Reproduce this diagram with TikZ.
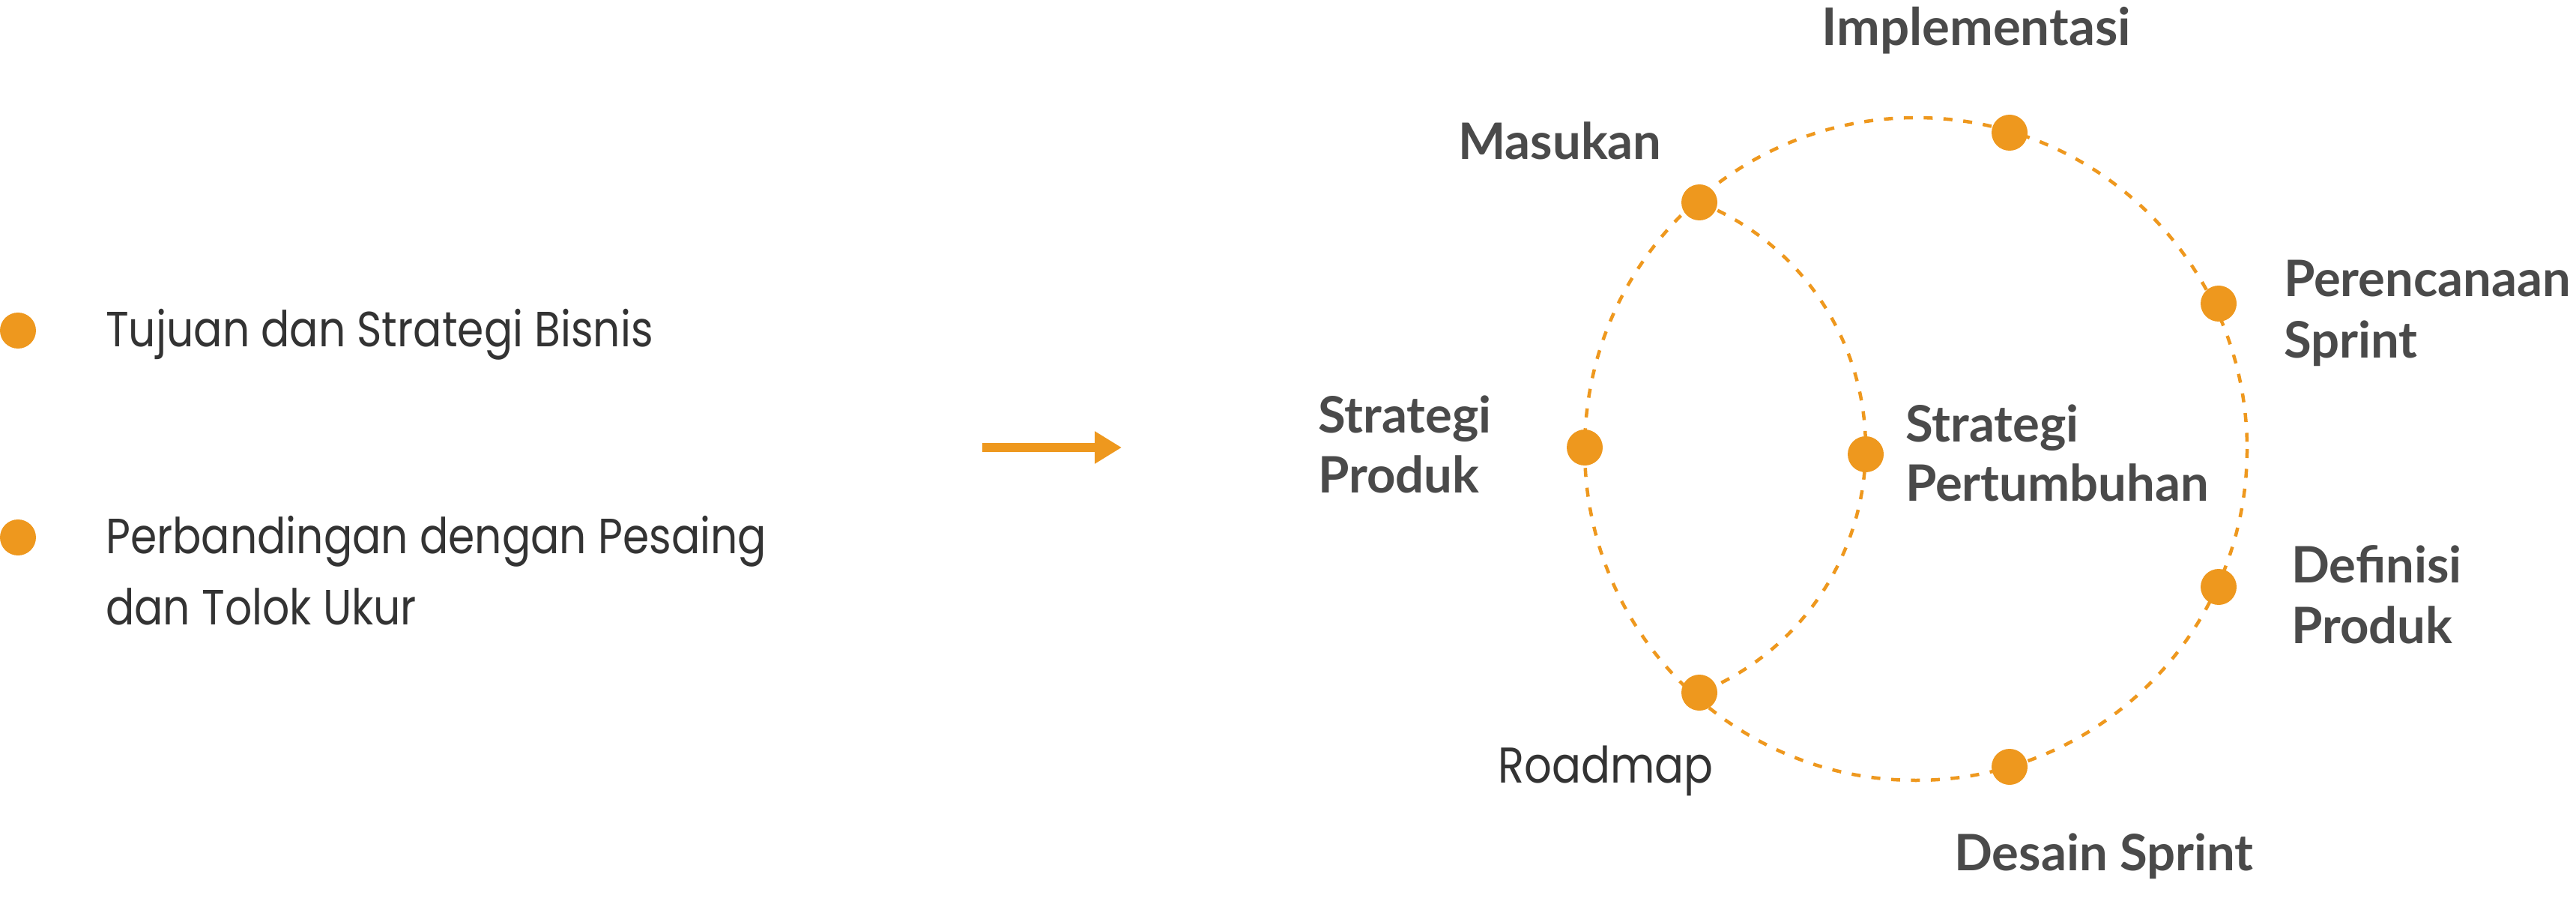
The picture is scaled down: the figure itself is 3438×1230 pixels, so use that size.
\documentclass[tikz,border=0pt]{standalone}
\usepackage{fontspec}
\usetikzlibrary{arrows.meta}
\newfontfamily\labfont{Lato}
\newfontfamily\bulfont{Poppins}[FakeStretch=0.86]
\definecolor{acc}{RGB}{238,152,30}
\definecolor{labc}{RGB}{74,74,74}
\definecolor{inkc}{RGB}{51,51,51}
\tikzset{
  dotnode/.style={circle, fill=acc, minimum size=48pt, inner sep=0pt},
  lab/.style={anchor=base west, inner sep=0pt, text=labc, font=\labfont\bfseries\fontsize{67}{80}\selectfont},
  txt/.style={anchor=base west, inner sep=0pt, text=inkc, font=\bulfont\fontsize{66}{80}\selectfont},
  dashline/.style={draw=acc, line width=4.5pt, dash pattern=on 12pt off 14.5pt},
  arrowline/.style={draw=acc, line width=12pt, -{Triangle[length=36pt, width=41pt]}}
}
\begin{document}
\begin{tikzpicture}[x=1pt, y=-1pt]
\useasboundingbox (0,0) rectangle (3438,1230);
% left list
\node[dotnode] (b1) at (24,441) {};
\node[dotnode] (b2) at (24,717) {};
\node[txt] (t1) at (141,462) {Tujuan dan Strategi Bisnis};
\node[txt] (t2) at (141,738) {Perbandingan dengan Pesaing};
\node[txt] (t3) at (141,833) {dan Tolok Ukur};
% arrow
\coordinate (a1) at (1311,597);
\coordinate (a2) at (1497,597);
\draw[arrowline] (a1) -- (a2);
% cycle
\coordinate (cc) at (2557,599);
\draw[dashline] (cc) circle[radius=442];
\coordinate (mc) at (2268,270);
\draw[dashline] (mc) arc[start angle=-68.3, end angle=68.3, radius=352];
\node[dotnode] (imp) at (2682,177) {};
\node[dotnode] (mas) at (2268,270) {};
\node[dotnode] (per) at (2961,405) {};
\node[dotnode] (spr) at (2115,597) {};
\node[dotnode] (spt) at (2490,606) {};
\node[dotnode] (def) at (2961,783) {};
\node[dotnode] (roa) at (2268,924) {};
\node[dotnode] (des) at (2682,1023) {};
% labels
\node[lab, font=\labfont\bfseries\fontsize{69}{80}\selectfont] (limp) at (2431,61) {Implementasi};
\node[lab] (lmas) at (1946,213) {Masukan};
\node[lab] (lper1) at (3048,396) {Perencanaan};
\node[lab] (lper2) at (3048,477) {Sprint};
\node[lab] (lspr1) at (1759,577) {Strategi};
\node[lab] (lspr2) at (1759,657) {Produk};
\node[lab] (lspt1) at (2543,589) {Strategi};
\node[lab] (lspt2) at (2543,668) {Pertumbuhan};
\node[lab] (ldef1) at (3058,777) {Definisi};
\node[lab] (ldef2) at (3058,858) {Produk};
\node[txt, font=\bulfont\fontsize{67}{80}\selectfont] (lroa) at (1999,1044) {Roadmap};
\node[lab] (ldes) at (2608,1161) {Desain Sprint};
\end{tikzpicture}
\end{document}
